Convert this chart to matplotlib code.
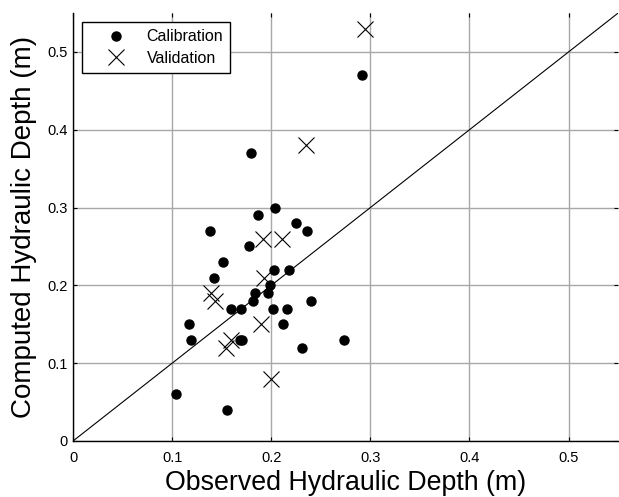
import numpy as np
import matplotlib.pyplot as plt

plt.rcParams['font.family'] = ['Liberation Sans', 'DejaVu Sans']

# calibration points (observed, computed)
cal_obs = [0.104, 0.155, 0.117, 0.119, 0.138, 0.142, 0.151, 0.159, 0.169, 0.168,
           0.171, 0.178, 0.180, 0.182, 0.184, 0.187, 0.197, 0.199, 0.202, 0.203,
           0.204, 0.212, 0.216, 0.218, 0.225, 0.231, 0.236, 0.240, 0.273, 0.292]
cal_comp = [0.06, 0.04, 0.15, 0.13, 0.27, 0.21, 0.23, 0.17, 0.17, 0.13,
            0.13, 0.25, 0.37, 0.18, 0.19, 0.29, 0.19, 0.20, 0.17, 0.22,
            0.30, 0.15, 0.17, 0.22, 0.28, 0.12, 0.27, 0.18, 0.13, 0.47]

# validation points
val_obs = [0.139, 0.143, 0.154, 0.159, 0.190, 0.192, 0.193, 0.200, 0.211, 0.235, 0.295]
val_comp = [0.19, 0.18, 0.12, 0.13, 0.15, 0.26, 0.21, 0.08, 0.26, 0.38, 0.53]

ticks = [0, 0.1, 0.2, 0.3, 0.4, 0.5]
tick_labels = ['0', '0.1', '0.2', '0.3', '0.4', '0.5']
lim = 0.55

fig = plt.figure(figsize=(6.19, 4.97), dpi=100)
ax = fig.add_axes([0.118, 0.1127, 0.8805, 0.861])

# 1:1 line
ax.plot([0, lim], [0, lim], color='black', linewidth=0.8, zorder=2)
ax.plot(cal_obs, cal_comp, linestyle='none', marker='o', markersize=6.5,
        color='black', label='Calibration', zorder=3)
ax.plot(val_obs, val_comp, linestyle='none', marker='x', markersize=12,
        markeredgewidth=0.8, color='black', label='Validation', zorder=3)

ax.set_xlim(0, lim)
ax.set_ylim(0, lim)
ax.set_xticks(ticks)
ax.set_yticks(ticks)
ax.set_xticklabels(tick_labels)
ax.set_yticklabels(tick_labels)
ax.grid(True, color='#a8a8a8', linewidth=1.0, linestyle='-')
ax.set_axisbelow(True)
ax.tick_params(direction='in', length=3, width=0.8, labelsize=10.5,
               top=True, right=True)
ax.tick_params(axis='x', pad=7)
ax.tick_params(axis='y', pad=4)

for s in ['top', 'right']:
    ax.spines[s].set_visible(False)
for s in ['left', 'bottom']:
    ax.spines[s].set_linewidth(1.0)

ax.set_xlabel('Observed Hydraulic Depth (m)', fontsize=19.3, labelpad=4)
ax.set_ylabel('Computed Hydraulic Depth (m)', fontsize=20, labelpad=7)

leg = ax.legend(loc='upper left', bbox_to_anchor=(0.016, 0.979), borderaxespad=0,
                fontsize=11.5, fancybox=False, framealpha=1, edgecolor='black',
                handlelength=3.4, handletextpad=0.2, borderpad=0.45,
                labelspacing=0.42)
leg.get_frame().set_linewidth(1.0)

fig.savefig('out.png', dpi=100)
